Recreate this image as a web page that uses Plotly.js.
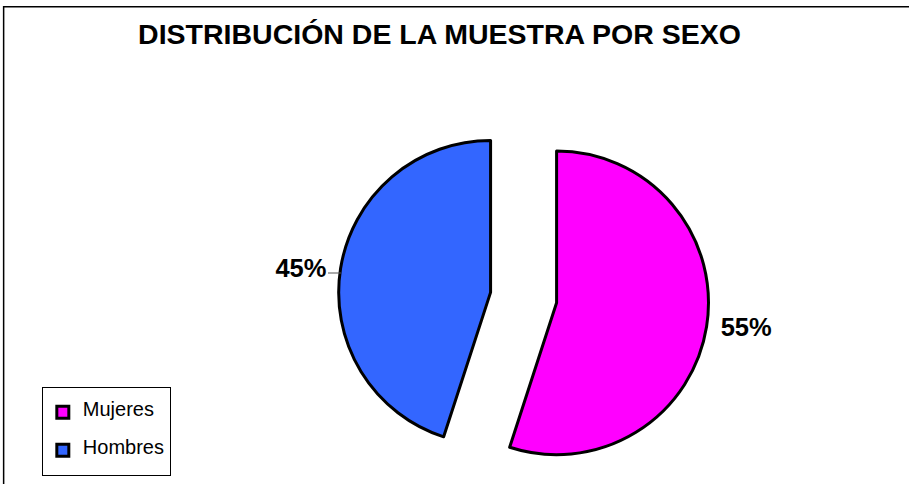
<!DOCTYPE html>
<html>
<head>
<meta charset="utf-8">
<script src="https://cdn.plot.ly/plotly-3.0.1.min.js"></script>
<style>html,body{margin:0;padding:0;background:#fff;}#chart{width:909px;height:484px;}</style>
</head>
<body>
<div id="chart"></div>
<script>
var categories = ["Mujeres", "Hombres"];
var values = [55, 45];
var colors = ["#FF00FF", "#3366FF"];
var chartTitle = "DISTRIBUCIÓN DE LA MUESTRA POR SEXO";

var FONT = "Liberation Sans, Arial, sans-serif";
var NB = "\u00A0";

// legend entries: the category name, padded with blank lines for Excel-like spacing
var legendLabels = categories.map(function (c) {
  return NB + "<br><span style=\"font-size:20px\">" + c + "</span><br>" + NB;
});

var trace = {
  type: "pie",
  labels: legendLabels,
  values: values,
  sort: false,
  direction: "clockwise",
  rotation: 0,
  pull: [0.22, 0.22],
  marker: { colors: colors, line: { color: "#000000", width: 3 } },
  textposition: "outside",
  texttemplate: [NB + "%{percent:.0%}", "%{percent:.0%}" + NB],
  textfont: { family: FONT, size: 25.5, color: "#000000", weight: "bold" },
  hoverinfo: "percent",
  domain: { x: [0.372, 0.780], y: [0.0023, 0.768] }
};

var layout = {
  width: 909,
  height: 484,
  margin: { l: 0, r: 0, t: 0, b: 0 },
  paper_bgcolor: "#ffffff",
  plot_bgcolor: "#ffffff",
  title: {
    text: "<b>" + chartTitle + "</b>",
    font: { family: FONT, size: 28.5, color: "#000000" },
    x: 0.4835, xanchor: "center",
    y: 0.93, yanchor: "middle", yref: "paper"
  },
  showlegend: true,
  legend: {
    x: 0.046, xanchor: "left",
    y: 0.2, yanchor: "top",
    valign: "middle",
    bordercolor: "#000000", borderwidth: 1,
    bgcolor: "#ffffff",
    font: { family: FONT, size: 9.0, color: "#000000" }
  },
  shapes: [
    { type: "rect", xref: "paper", yref: "paper", x0: 0.004, x1: 1.01, y0: -0.01, y1: 0.986,
      line: { color: "#000000", width: 1.5 }, fillcolor: "rgba(0,0,0,0)" },
    { type: "line", xref: "paper", yref: "paper", x0: 328 / 909, x1: 341 / 909, y0: 1 - 273 / 484, y1: 1 - 273 / 484,
      line: { color: "#555555", width: 1 } }
  ]
};

Plotly.newPlot("chart", [trace], layout, { displayModeBar: false, staticPlot: true });
</script>
</body>
</html>
